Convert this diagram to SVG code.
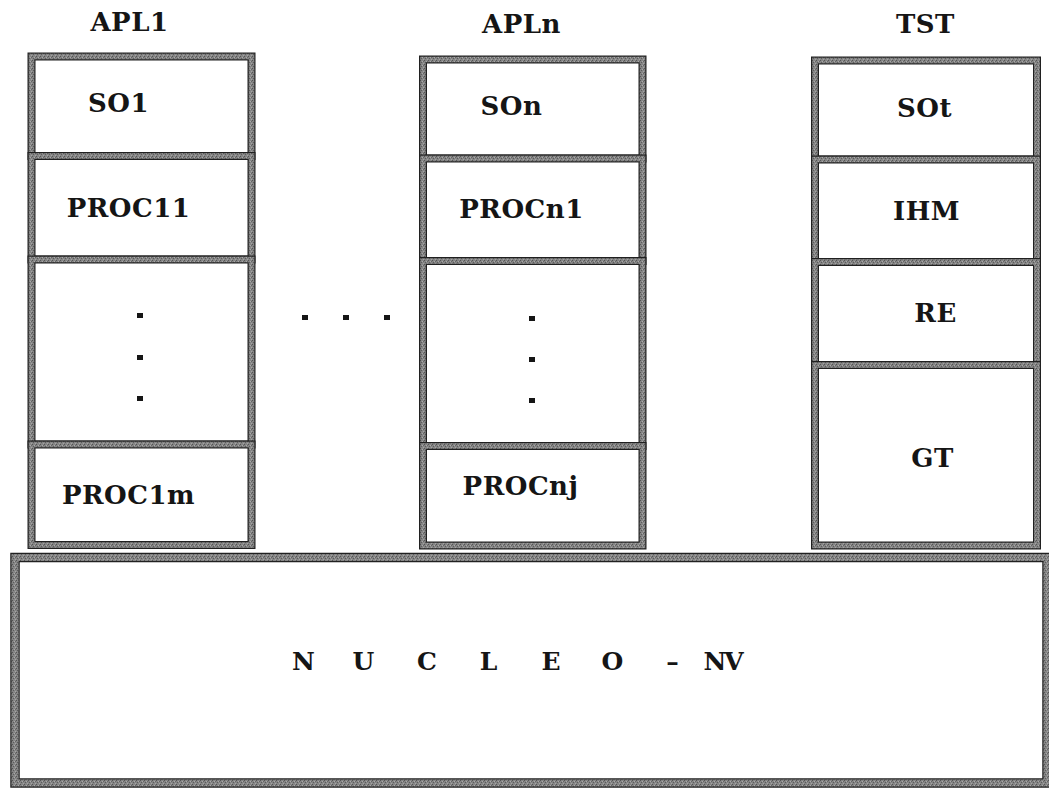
<svg xmlns="http://www.w3.org/2000/svg" width="1049" height="788" viewBox="0 0 1049 788">
<defs>
<pattern id="stip" width="4" height="4" patternUnits="userSpaceOnUse">
<rect width="4" height="4" fill="#858585"/>
<rect x="0" y="0" width="1" height="1" fill="#555"/>
<rect x="2" y="1" width="1" height="1" fill="#aaa"/>
<rect x="1" y="2" width="1" height="1" fill="#5c5c5c"/>
<rect x="3" y="3" width="1" height="1" fill="#a4a4a4"/>
<rect x="3" y="1" width="1" height="1" fill="#666"/>
</pattern>
<style>
.edge{fill:#fff;stroke:#202020;stroke-width:8}
.band{fill:none;stroke:url(#stip);stroke-width:5.6}
.nedge{fill:#fff;stroke:#202020;stroke-width:9.5}
.nband{fill:none;stroke:url(#stip);stroke-width:7}
.lbl{font-family:"DejaVu Serif","Liberation Serif",serif;font-weight:bold;font-size:26px;letter-spacing:0.5px;fill:#151515;text-anchor:middle}
.nuc{font-family:"DejaVu Serif","Liberation Serif",serif;font-weight:bold;font-size:25px;fill:#151515;text-anchor:middle}
.dot{fill:#151515}
</style>
</defs>
<rect width="1049" height="788" fill="#fff"/>

<g id="col-apl1">
<text class="lbl" x="129.5" y="31">APL1</text>
<g id="so1"><rect class="edge" x="31.5" y="56.5" width="220" height="99.5"/><rect class="band" x="31.5" y="56.5" width="220" height="99.5"/><text class="lbl" x="118.5" y="112">SO1</text></g>
<g id="proc11"><rect class="edge" x="31.5" y="156" width="220" height="103.5"/><rect class="band" x="31.5" y="156" width="220" height="103.5"/><text class="lbl" x="128.5" y="217">PROC11</text></g>
<g id="dots1"><rect class="edge" x="31.5" y="259.5" width="220" height="185"/><rect class="band" x="31.5" y="259.5" width="220" height="185"/>
<rect class="dot" x="137" y="313" width="6" height="5"/><rect class="dot" x="137" y="355" width="6" height="5"/><rect class="dot" x="137" y="396" width="6" height="5"/></g>
<g id="proc1m"><rect class="edge" x="31.5" y="444.5" width="220" height="100.5"/><rect class="band" x="31.5" y="444.5" width="220" height="100.5"/><text class="lbl" x="128.5" y="504">PROC1m</text></g>
</g>

<g id="ellipsis">
<rect class="dot" x="302" y="315" width="6" height="5"/><rect class="dot" x="343" y="315" width="6" height="5"/><rect class="dot" x="384" y="315" width="6" height="5"/>
</g>

<g id="col-apln">
<text class="lbl" x="521.5" y="33">APLn</text>
<g id="son"><rect class="edge" x="423" y="59.5" width="219.5" height="99"/><rect class="band" x="423" y="59.5" width="219.5" height="99"/><text class="lbl" x="511.5" y="115">SOn</text></g>
<g id="procn1"><rect class="edge" x="423" y="158.5" width="219.5" height="102.5"/><rect class="band" x="423" y="158.5" width="219.5" height="102.5"/><text class="lbl" x="521.5" y="218">PROCn1</text></g>
<g id="dotsn"><rect class="edge" x="423" y="261" width="219.5" height="185"/><rect class="band" x="423" y="261" width="219.5" height="185"/>
<rect class="dot" x="529" y="316" width="6" height="5"/><rect class="dot" x="529" y="357" width="6" height="5"/><rect class="dot" x="529" y="398" width="6" height="5"/></g>
<g id="procnj"><rect class="edge" x="423" y="446" width="219.5" height="99.5"/><rect class="band" x="423" y="446" width="219.5" height="99.5"/><text class="lbl" x="520.5" y="495">PROCnj</text></g>
</g>

<g id="col-tst">
<text class="lbl" x="925.5" y="33">TST</text>
<g id="sot"><rect class="edge" x="815" y="60.5" width="222" height="99"/><rect class="band" x="815" y="60.5" width="222" height="99"/><text class="lbl" x="924.5" y="117">SOt</text></g>
<g id="ihm"><rect class="edge" x="815" y="159.5" width="222" height="102.5"/><rect class="band" x="815" y="159.5" width="222" height="102.5"/><text class="lbl" x="926.5" y="220">IHM</text></g>
<g id="re"><rect class="edge" x="815" y="262" width="222" height="103"/><rect class="band" x="815" y="262" width="222" height="103"/><text class="lbl" x="935.5" y="322">RE</text></g>
<g id="gt"><rect class="edge" x="815" y="365" width="222" height="180.5"/><rect class="band" x="815" y="365" width="222" height="180.5"/><text class="lbl" x="932.5" y="467">GT</text></g>
</g>

<g id="nucleo">
<rect class="nedge" x="15" y="557.5" width="1032" height="225.5"/>
<rect class="nband" x="15" y="557.5" width="1032" height="225.5"/>
<text class="nuc" x="303.5 333 363.5 395 427 458 488.5 520 551 582 612.5 642 672.5 694 715 734" y="670">N U C L E O – NV</text>
</g>

<g id="connectors"></g>
</svg>
